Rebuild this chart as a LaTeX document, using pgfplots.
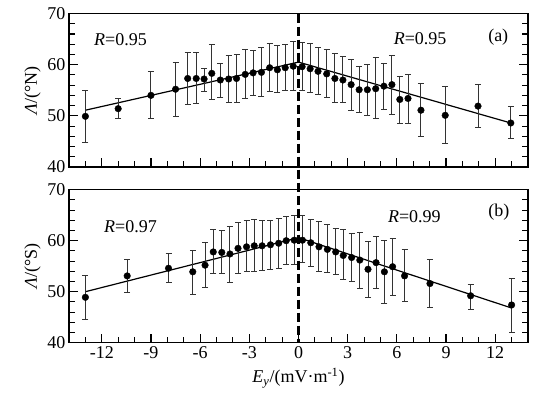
\documentclass[border=0pt]{standalone}
\usepackage{fontspec}
\setmainfont{Liberation Serif}
\usepackage{pgfplots}
\pgfplotsset{compat=1.18}
\usepackage{pgfplotstable}

\pgfplotstableread{
x y ep em
-13.00 49.9 5.0 5.1
-11.00 51.4 1.9 2.0
-9.00 54.0 4.6 4.6
-7.50 55.2 5.3 5.3
-6.76 57.3 5.1 5.1
-6.24 57.3 5.0 4.9
-5.76 57.2 2.1 2.4
-5.29 58.3 5.6 5.2
-4.77 57.0 3.3 3.4
-4.26 57.2 4.5 4.5
-3.78 57.3 4.7 4.6
-3.25 58.1 4.9 4.8
-2.77 58.4 4.4 4.5
-2.26 58.5 4.9 4.8
-1.76 59.4 4.8 4.7
-1.29 59.0 4.7 4.4
-0.81 59.4 4.6 4.4
-0.32 59.7 4.9 4.8
0.22 59.6 4.7 4.6
0.71 59.2 4.9 4.6
1.19 58.7 4.7 4.5
1.72 58.2 4.7 4.7
2.22 57.3 4.9 4.6
2.71 57.0 4.5 4.3
3.21 56.1 4.9 5.0
3.70 55.1 4.6 4.4
4.20 55.1 5.0 5.0
4.71 55.3 6.1 5.9
5.21 55.8 4.5 4.6
5.70 56.1 5.7 5.8
6.18 53.2 4.5 4.7
6.68 53.4 4.7 4.9
7.47 51.1 5.2 5.2
8.95 50.1 5.7 5.5
10.95 51.9 4.2 4.2
12.95 48.6 3.3 3.1
}\dataA

\pgfplotstableread{
x y ep em
-13.00 48.9 4.2 4.3
-10.45 53.1 3.2 3.2
-7.93 54.6 2.9 2.8
-6.45 53.9 4.1 4.4
-5.70 55.2 4.4 4.3
-5.20 57.8 4.4 4.3
-4.68 57.7 4.3 4.2
-4.18 57.4 5.3 5.5
-3.69 58.5 5.1 5.0
-3.17 58.8 5.1 4.9
-2.70 59.0 5.1 5.1
-2.22 59.0 5.0 4.9
-1.71 59.2 4.7 4.9
-1.21 59.5 4.8 5.0
-0.75 60.0 4.7 4.6
-0.26 60.1 4.9 4.8
0.24 60.1 4.9 4.4
0.75 59.6 4.5 4.6
1.25 58.8 4.9 4.9
1.76 58.3 4.8 4.6
2.27 57.8 4.6 4.5
2.73 57.1 5.0 4.7
3.24 56.7 4.7 4.7
3.74 56.2 5.4 5.5
4.24 54.4 5.5 5.5
4.73 55.7 5.2 5.0
5.24 53.9 6.2 6.2
5.74 54.9 5.6 5.7
6.47 53.1 5.1 5.1
8.02 51.6 4.75 4.7
10.50 49.2 2.3 2.6
13.00 47.4 5.2 5.4
}\dataB

\pgfplotsset{
  myaxis/.style={
    scale only axis, width=459pt, height=153.5pt,
    xmin=-14, xmax=14, ymin=40, ymax=70,
    xtick={-12,-9,...,12}, minor xtick={-13,-12,...,13},
    ytick={40,50,60,70}, minor ytick={42,44,...,68},
    tick align=inside, xtick pos=left, ytick pos=both,
    major tick length=9pt, minor tick length=6pt,
    every tick/.style={line width=1.1pt, black},
    axis line style={line width=1.2pt},
    font=\fontsize{18}{21}\selectfont,
    /pgf/number format/assume math mode=true,
  },
  pts/.style={only marks, mark=*, mark size=3.3pt, black,
    error bars/.cd, y dir=both, y explicit,
    error bar style={line width=1pt, black!80},
    error mark options={rotate=90, mark size=3pt, line width=1pt, black!80}},
  fit/.style={line width=1.2pt, black, no marks},
}

\begin{document}
\begin{tikzpicture}
\path[use as bounding box] (0,0) rectangle (556pt,397pt);
\begin{axis}[myaxis, at={(69pt,230pt)}, anchor=south west,
  xticklabels={}, ylabel={\textit{Λ}/(°N)}]
\addplot[fit] coordinates {(-13,51.1) (0,60.5) (12.95,48.6)};
\addplot[pts] table[x=x, y=y, y error plus=ep, y error minus=em] {\dataA};
\node[anchor=base west] at (axis cs:-12.68,63.8) {\textit{R}=0.95};
\node[anchor=base west] at (axis cs:5.6,63.9) {\textit{R}=0.95};
\node[anchor=base west] at (axis cs:11.36,64.6) {(a)};
\coordinate (dt) at (axis cs:0,70);
\end{axis}
\begin{axis}[myaxis, at={(69pt,54.3pt)}, anchor=south west, height=153pt,
  xticklabels={-12,-9,-6,-3,0,3,6,9,12},
  ylabel={\textit{Λ}/(°S)},
  xlabel={\textit{E}\textsubscript{\textit{y}}/(mV·m\textsuperscript{-1})},
  xlabel style={at={(axis description cs:0.5,0)}, anchor=base, yshift=-40pt}]
\addplot[fit] coordinates {(-13,50.0) (0,60.6) (13,46.8)};
\addplot[pts] table[x=x, y=y, y error plus=ep, y error minus=em] {\dataB};
\node[anchor=base west] at (axis cs:-12.07,61.6) {\textit{R}=0.97};
\node[anchor=base west] at (axis cs:5.25,63.6) {\textit{R}=0.99};
\node[anchor=base west] at (axis cs:11.36,64.7) {(b)};
\coordinate (db) at (axis cs:0,40);
\end{axis}
\draw[line width=3pt, dash pattern=on 9pt off 4pt] (dt) -- (db);
\end{tikzpicture}
\end{document}
